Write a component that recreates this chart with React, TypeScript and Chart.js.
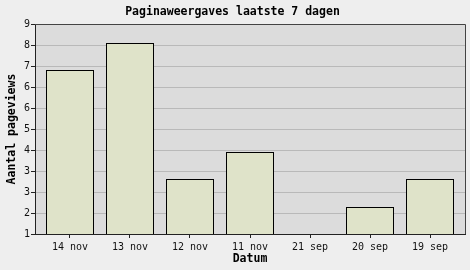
import { useEffect, useRef } from 'react';
import { Chart, registerables } from 'chart.js';

Chart.register(...registerables);

const categories = ['14 nov', '13 nov', '12 nov', '11 nov', '21 sep', '20 sep', '19 sep'];
const pageviews = [7.25, 8.28, 3.1, 4.12, 1, 2.03, 3.1];
const yTickLabels = ['1', '2', '3', '3', '4', '5', '6', '6', '7', '8', '9'];
const chartTitle = 'Paginaweergaves laatste 7 dagen';
const yTitle = 'Aantal pageviews';
const xTitle = 'Datum';

const FONT = "'DejaVu Sans Mono', monospace";

export default function App() {
  const ref = useRef<HTMLCanvasElement>(null);

  useEffect(() => {
    if (!ref.current) return;
    const bgPlugin = {
      id: 'bgFrame',
      beforeDraw(chart: any) {
        const { ctx, chartArea: a, width, height } = chart;
        ctx.save();
        ctx.fillStyle = '#eeeeee';
        ctx.fillRect(0, 0, width, height);
        ctx.fillStyle = '#dcdcdc';
        ctx.fillRect(a.left, a.top, a.right - a.left, a.bottom - a.top);
        ctx.restore();
      },
      afterDatasetsDraw(chart: any) {
        const { ctx, chartArea: a } = chart;
        ctx.save();
        ctx.strokeStyle = '#444444';
        ctx.lineWidth = 1;
        ctx.beginPath();
        ctx.moveTo(Math.round(a.left), Math.round(a.top) + 0.5);
        ctx.lineTo(Math.round(a.right) + 0.5, Math.round(a.top) + 0.5);
        ctx.lineTo(Math.round(a.right) + 0.5, Math.round(a.bottom));
        ctx.stroke();
        ctx.restore();
      },
    };

    const chart = new Chart(ref.current, {
      type: 'bar',
      data: {
        datasets: [
          {
            data: pageviews.map((v, i) => ({ x: i, y: v })),
            backgroundColor: '#dfe3c9',
            borderColor: '#000000',
            borderWidth: 1,
            barPercentage: 0.8,
            categoryPercentage: 1,
          },
        ],
      },
      options: {
        animation: false,
        responsive: false,
        layout: { padding: { left: 0, right: 5, top: 0, bottom: 0 } },
        plugins: {
          legend: { display: false },
          tooltip: { enabled: false },
          title: {
            display: true,
            text: chartTitle,
            color: '#000000',
            font: { family: FONT, size: 11.5, weight: 'bold', lineHeight: '14px' },
            padding: { top: 5, bottom: 5 },
          },
        },
        scales: {
          x: {
            type: 'linear',
            offset: false,
            min: -0.58333,
            max: 6.58333,
            afterBuildTicks: (s: any) => {
              s.ticks = categories.map((_, i) => ({ value: i }));
            },
            afterFit: (s: any) => {
              s.height = 36;
            },
            grid: {
              offset: false,
              drawOnChartArea: false,
              tickLength: 4,
              tickColor: '#222222',
              color: '#222222',
            },
            border: { color: '#222222' },
            ticks: {
              autoSkip: false,
              maxRotation: 0,
              padding: 3,
              color: '#111111',
              font: { family: FONT, size: 10 },
              callback: (v: any) => categories[Math.round(Number(v))],
            },
            title: {
              display: true,
              text: xTitle,
              color: '#000000',
              font: { family: FONT, size: 11.5, weight: 'bold', lineHeight: '14px' },
              padding: { top: 0, bottom: 4 },
            },
          },
          y: {
            min: 1,
            max: 9,
            afterFit: (s: any) => {
              s.width = 35;
            },
            grid: {
              color: '#b9b9b9',
              tickLength: 4,
              tickColor: '#222222',
            },
            border: { color: '#222222' },
            ticks: {
              stepSize: 0.8,
              padding: 1,
              color: '#111111',
              font: { family: FONT, size: 10 },
              callback: (_v: any, i: number) => yTickLabels[i],
            },
            title: {
              display: true,
              text: yTitle,
              color: '#000000',
              font: { family: FONT, size: 11.5, weight: 'bold', lineHeight: '14px' },
              padding: { top: 5, bottom: 0 },
            },
          },
        },
      },
      plugins: [bgPlugin],
    } as any);

    return () => chart.destroy();
  }, []);

  return (
    <div style={{ position: 'fixed', left: 0, top: 0, width: 470, height: 270 }}>
      <canvas ref={ref} width={470} height={270} />
    </div>
  );
}
